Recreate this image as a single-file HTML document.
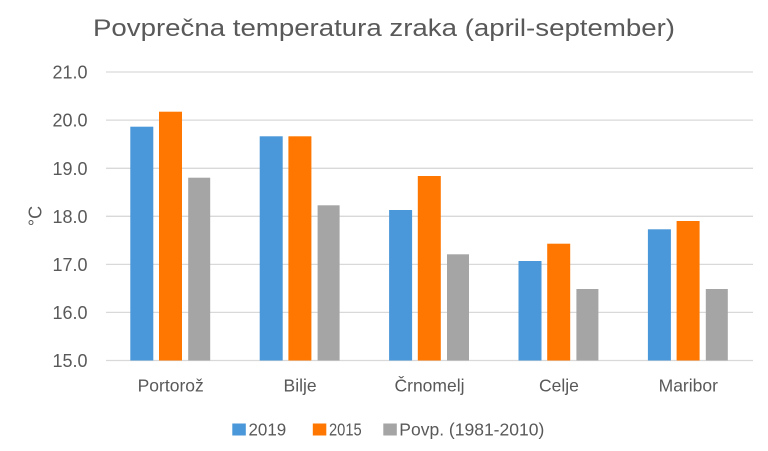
<!DOCTYPE html>
<html>
<head>
<meta charset="utf-8">
<style>
  html, body { margin: 0; padding: 0; background: #ffffff; }
  body { width: 768px; height: 451px; overflow: hidden; }
  svg { display: block; }
  text { font-family: "Liberation Sans", "DejaVu Sans", sans-serif; fill: #595959; }
</style>
</head>
<body>
<svg width="768" height="451" viewBox="0 0 768 451" xmlns="http://www.w3.org/2000/svg">
  <rect x="0" y="0" width="768" height="451" fill="#ffffff"/>

  <!-- Title -->
  <text x="93" y="36" font-size="24" textLength="582" lengthAdjust="spacingAndGlyphs">Povprečna temperatura zraka (april-september)</text>

  <!-- Gridlines -->
  <g stroke="#D9D9D9" stroke-width="1.3">
    <line x1="106" y1="72.0" x2="753" y2="72.0"/>
    <line x1="106" y1="120.1" x2="753" y2="120.1"/>
    <line x1="106" y1="168.3" x2="753" y2="168.3"/>
    <line x1="106" y1="216.3" x2="753" y2="216.3"/>
    <line x1="106" y1="264.4" x2="753" y2="264.4"/>
    <line x1="106" y1="312.4" x2="753" y2="312.4"/>
    <line x1="106" y1="360.5" x2="753" y2="360.5"/>
  </g>

  <!-- Y axis labels -->
  <g font-size="18" text-anchor="end">
    <text x="87.5" y="78.5">21.0</text>
    <text x="87.5" y="126.6">20.0</text>
    <text x="87.5" y="174.8">19.0</text>
    <text x="87.5" y="222.8">18.0</text>
    <text x="87.5" y="270.9">17.0</text>
    <text x="87.5" y="318.9">16.0</text>
    <text x="87.5" y="367.0">15.0</text>
  </g>

  <!-- Y axis title -->
  <text transform="translate(41.5,216) rotate(-90)" font-size="18" text-anchor="middle">°C</text>

  <!-- Bars: y(v) = 360.5 - (v-15)*48.08 -->
  <!-- Portorož -->
  <rect x="130.3" y="126.7" width="23" height="233.8" fill="#4A97D9"/>
  <rect x="159.0" y="111.7" width="23" height="248.8" fill="#FF7700"/>
  <rect x="188.2" y="177.7" width="22" height="182.8" fill="#A5A5A5"/>
  <!-- Bilje -->
  <rect x="259.7" y="136.3" width="23" height="224.2" fill="#4A97D9"/>
  <rect x="288.4" y="136.3" width="23" height="224.2" fill="#FF7700"/>
  <rect x="317.6" y="205.3" width="22" height="155.2" fill="#A5A5A5"/>
  <!-- Črnomelj -->
  <rect x="389.1" y="210.0" width="23" height="150.5" fill="#4A97D9"/>
  <rect x="417.8" y="176.0" width="23" height="184.5" fill="#FF7700"/>
  <rect x="447.0" y="254.3" width="22" height="106.2" fill="#A5A5A5"/>
  <!-- Celje -->
  <rect x="518.5" y="261.0" width="23" height="99.5" fill="#4A97D9"/>
  <rect x="547.2" y="243.7" width="23" height="116.8" fill="#FF7700"/>
  <rect x="576.4" y="289.0" width="22" height="71.5" fill="#A5A5A5"/>
  <!-- Maribor -->
  <rect x="647.9" y="229.3" width="23" height="131.2" fill="#4A97D9"/>
  <rect x="676.6" y="221.0" width="23" height="139.5" fill="#FF7700"/>
  <rect x="705.8" y="289.0" width="22" height="71.5" fill="#A5A5A5"/>

  <!-- Category labels -->
  <g font-size="17.5" text-anchor="middle">
    <text x="170.7" y="391.5">Portorož</text>
    <text x="300.1" y="391.5">Bilje</text>
    <text x="429.5" y="391.5">Črnomelj</text>
    <text x="558.9" y="391.5">Celje</text>
    <text x="688.3" y="391.5">Maribor</text>
  </g>

  <!-- Legend -->
  <rect x="232.3" y="423.5" width="13.5" height="12" fill="#4A97D9"/>
  <text x="248.5" y="435.5" font-size="17.5" textLength="37.7" lengthAdjust="spacingAndGlyphs">2019</text>
  <rect x="312.8" y="423.5" width="13.5" height="12" fill="#FF7700"/>
  <text x="329" y="435.5" font-size="17.5" textLength="32.7" lengthAdjust="spacingAndGlyphs">2015</text>
  <rect x="383.3" y="423.5" width="13.5" height="12" fill="#A5A5A5"/>
  <text x="399.3" y="435.5" font-size="17.5" textLength="145" lengthAdjust="spacingAndGlyphs">Povp. (1981-2010)</text>
</svg>
</body>
</html>
